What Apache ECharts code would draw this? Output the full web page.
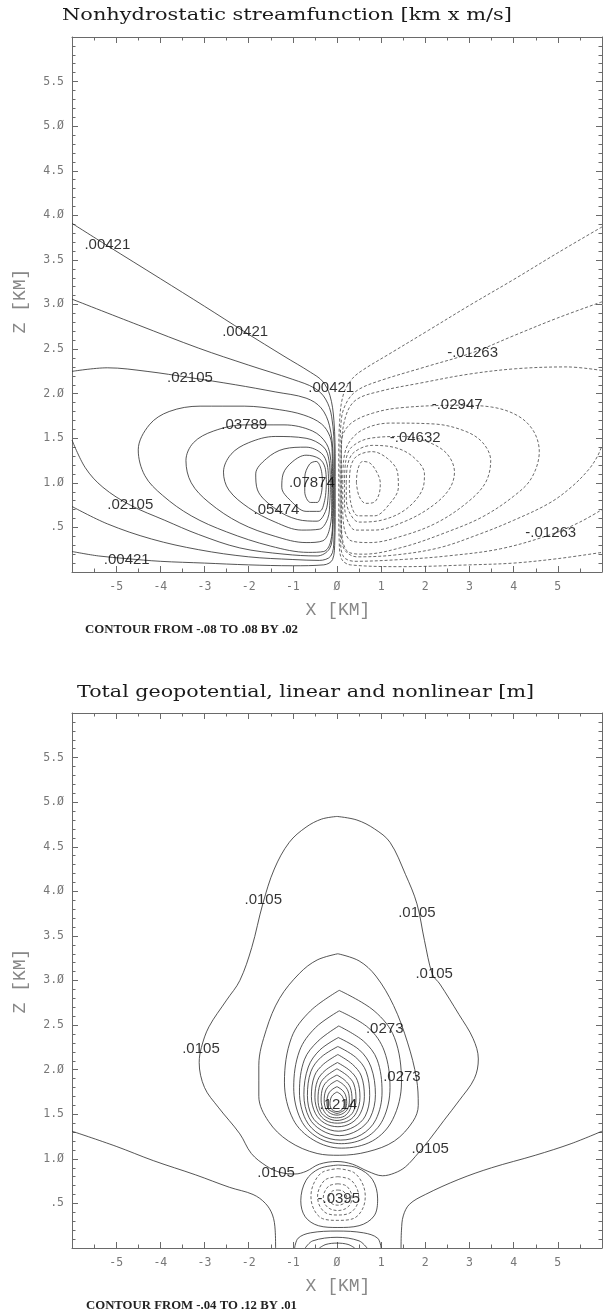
<!DOCTYPE html>
<html><head><meta charset="utf-8">
<script src="https://cdn.jsdelivr.net/npm/echarts@6/dist/echarts.min.js"></script>
<style>html,body{margin:0;padding:0;background:#fff}#c{width:605px;height:1315px}</style>
</head><body><div id="c"></div>
<script>
// ---------- axis ticks ----------
const xTickValues = [-5,-4,-3,-2,-1,0,1,2,3,4,5];
const xTickLabels = ['-5','-4','-3','-2','-1','Ø','1','2','3','4','5'];
const zTickValues = [0.5,1,1.5,2,2.5,3,3.5,4,4.5,5,5.5];
const zTickLabels = ['.5','1.Ø','1.5','2.Ø','2.5','3.Ø','3.5','4.Ø','4.5','5.Ø','5.5'];

// ---------- top panel: nonhydrostatic streamfunction contours [x km, z km] ----------
const psi_p00421 = [[-6,3.91],[-5.2,3.66],[-4,3.29],[-3,2.98],[-2.08,2.69],[-1.2,2.42],[-0.6,2.24],[-0.33,2.14],[-0.16,1.98],[-0.07,1.7],[-0.04,1.2],[-0.04,0.7],[-0.05,0.35],[-0.1,0.14],[-0.3,0.08],[-1,0.07],[-2,0.08],[-3,0.1],[-4,0.12],[-4.76,0.15],[-5.4,0.18],[-6,0.23]];
const psi_p01263 = [[-6,3.06],[-4.5,2.77],[-3.13,2.51],[-2,2.32],[-1,2.16],[-0.5,2.06],[-0.26,1.94],[-0.12,1.74],[-0.06,1.3],[-0.06,0.7],[-0.07,0.36],[-0.14,0.18],[-0.4,0.13],[-1,0.14],[-2,0.17],[-3.13,0.25],[-4.2,0.37],[-5.2,0.54],[-6,0.735]];
const psi_p02105 = [[-6,2.25],[-5.2,2.29],[-4.3,2.25],[-3.33,2.18],[-2.3,2.1],[-1.4,2.02],[-0.7,1.95],[-0.36,1.84],[-0.17,1.64],[-0.09,1.3],[-0.08,0.8],[-0.1,0.45],[-0.17,0.26],[-0.45,0.18],[-1.2,0.2],[-2.2,0.27],[-3.13,0.42],[-3.9,0.58],[-4.68,0.75],[-5.3,0.95],[-5.7,1.17],[-6,1.48]];
const psi_p02947 = [[-0.1,1.0],[-0.11,1.35],[-0.16,1.52],[-0.35,1.66],[-0.75,1.76],[-1.3,1.82],[-2.1,1.86],[-3.1,1.86],[-3.8,1.8],[-4.25,1.65],[-4.5,1.37],[-4.35,1.08],[-3.95,0.86],[-3.3,0.63],[-2.5,0.45],[-1.5,0.29],[-0.65,0.22],[-0.3,0.23],[-0.15,0.33],[-0.1,0.6],[-0.1,1.0]];
const psi_p03789 = [[-0.12,1.0],[-0.14,1.25],[-0.24,1.44],[-0.55,1.58],[-1.2,1.65],[-2.1,1.65],[-2.8,1.58],[-3.25,1.45],[-3.42,1.25],[-3.3,1.0],[-2.9,0.78],[-2.2,0.55],[-1.4,0.4],[-0.7,0.33],[-0.32,0.35],[-0.16,0.5],[-0.12,0.75],[-0.12,1.0]];
const psi_p04632 = [[-0.15,1.0],[-0.18,1.25],[-0.3,1.4],[-0.7,1.5],[-1.4,1.52],[-2.0,1.45],[-2.4,1.32],[-2.57,1.12],[-2.45,0.92],[-2.0,0.72],[-1.4,0.56],[-0.8,0.47],[-0.4,0.48],[-0.21,0.6],[-0.16,0.8],[-0.15,1.0]];
const psi_p05474 = [[-0.19,1.0],[-0.22,1.2],[-0.35,1.33],[-0.7,1.4],[-1.2,1.38],[-1.6,1.27],[-1.84,1.1],[-1.8,0.92],[-1.37,0.7],[-0.9,0.59],[-0.45,0.57],[-0.26,0.68],[-0.2,0.85],[-0.19,1.0]];
const psi_p06316 = [[-0.24,1.0],[-0.27,1.17],[-0.4,1.27],[-0.7,1.31],[-1.0,1.24],[-1.22,1.1],[-1.25,0.95],[-1.05,0.8],[-0.7,0.68],[-0.4,0.68],[-0.28,0.8],[-0.24,1.0]];
const psi_p07158 = [[-0.33,1.0],[-0.36,1.15],[-0.47,1.24],[-0.62,1.21],[-0.73,1.06],[-0.73,0.9],[-0.6,0.78],[-0.45,0.78],[-0.36,0.87],[-0.33,1.0]];

const psi_n00421 = [[6,3.87],[5,3.58],[4,3.28],[3,2.99],[2.07,2.71],[1.2,2.45],[0.6,2.27],[0.35,2.17],[0.15,2.0],[0.06,1.7],[0.04,1.2],[0.04,0.7],[0.05,0.35],[0.1,0.15],[0.3,0.08],[1.5,0.06],[3,0.08],[4,0.1],[5,0.15],[6,0.22]];
const psi_n01263 = [[6,3.03],[5,2.85],[4,2.65],[3.07,2.46],[2,2.3],[1,2.15],[0.5,2.05],[0.25,1.93],[0.1,1.72],[0.07,1.3],[0.07,0.7],[0.08,0.35],[0.15,0.17],[0.4,0.12],[1.46,0.14],[2.5,0.18],[3.7,0.26],[4.84,0.42],[5.5,0.56],[6,0.7]];
const psi_n02105 = [[6,2.26],[5.2,2.3],[4.06,2.28],[3,2.22],[1.9,2.12],[1.0,2.03],[0.43,1.93],[0.2,1.75],[0.1,1.4],[0.09,0.8],[0.1,0.45],[0.17,0.25],[0.45,0.17],[1.3,0.19],[2.3,0.27],[3.2,0.42],[4.0,0.58],[4.8,0.77],[5.3,0.95],[5.7,1.15],[5.9,1.3],[6,1.42]];
const psi_n02947 = [[0.1,1.0],[0.1,1.4],[0.14,1.55],[0.35,1.68],[0.8,1.78],[1.4,1.84],[2.72,1.87],[3.5,1.85],[4.1,1.75],[4.45,1.58],[4.58,1.35],[4.4,1.05],[4.0,0.85],[3.3,0.62],[2.5,0.45],[1.5,0.28],[0.6,0.2],[0.27,0.22],[0.13,0.35],[0.1,0.6],[0.1,1.0]];
const psi_n03789 = [[0.13,1.0],[0.15,1.25],[0.27,1.45],[0.6,1.6],[1.2,1.67],[2.2,1.66],[2.9,1.58],[3.3,1.45],[3.48,1.25],[3.36,1.0],[2.95,0.78],[2.25,0.55],[1.45,0.4],[0.75,0.33],[0.32,0.35],[0.16,0.5],[0.13,0.75],[0.13,1.0]];
const psi_n04632 = [[0.17,1.0],[0.2,1.25],[0.33,1.4],[0.75,1.5],[1.5,1.52],[2.1,1.45],[2.5,1.32],[2.66,1.12],[2.53,0.92],[2.1,0.72],[1.5,0.56],[0.85,0.47],[0.42,0.47],[0.22,0.6],[0.17,0.8],[0.17,1.0]];
const psi_n05474 = [[0.21,1.0],[0.24,1.2],[0.38,1.34],[0.8,1.42],[1.35,1.39],[1.75,1.28],[1.98,1.1],[1.93,0.92],[1.55,0.7],[1.0,0.58],[0.5,0.56],[0.27,0.68],[0.21,0.85],[0.21,1.0]];
const psi_n06316 = [[0.28,1.0],[0.31,1.18],[0.45,1.3],[0.8,1.35],[1.15,1.27],[1.37,1.12],[1.39,0.95],[1.2,0.77],[0.85,0.63],[0.48,0.63],[0.31,0.78],[0.28,1.0]];
const psi_n07158 = [[0.44,1.0],[0.47,1.15],[0.58,1.24],[0.75,1.22],[0.9,1.12],[0.98,1.0],[0.95,0.87],[0.83,0.78],[0.65,0.77],[0.5,0.85],[0.44,1.0]];

const psiLabelText = ['.00421','.00421','.02105','.00421','-.01263','-.02947','.03789','-.04632','.07874','.02105','.05474','-.01263','.00421'];
const psiLabelPos = [[-5.2,3.67],[-2.08,2.69],[-3.33,2.18],[-0.13,2.07],[3.07,2.46],[2.72,1.87],[-2.1,1.65],[1.77,1.5],[-0.57,1.0],[-4.68,0.75],[-1.37,0.7],[4.84,0.44],[-4.76,0.14]];

// ---------- bottom panel: total geopotential contours ----------
const phi_0021_left = [[-6,1.31],[-5,1.14],[-4.16,0.98],[-3.2,0.82],[-2.43,0.68],[-1.9,0.6],[-1.62,0.5],[-1.46,0.37],[-1.4,0.2],[-1.39,0]];
const phi_0021_right = [[1.45,0],[1.46,0.2],[1.5,0.36],[1.64,0.49],[2.0,0.6],[2.76,0.77],[3.5,0.9],[4.49,1.04],[5.3,1.17],[6,1.31]];
const phi_0021_oval = [[0.02,0.93],[0.45,0.9],[0.8,0.77],[0.92,0.55],[0.84,0.36],[0.5,0.25],[0.02,0.23],[-0.42,0.25],[-0.72,0.35],[-0.82,0.53],[-0.7,0.76],[-0.4,0.89],[0.02,0.93]];
const phi_arc1 = [[-0.96,0],[-0.88,0.11],[-0.6,0.17],[0,0.19],[0.6,0.17],[0.92,0.11],[1.0,0]];
const phi_arc2 = [[-0.72,0],[-0.55,0.08],[0,0.12],[0.5,0.08],[0.68,0]];
const phi_arc3 = [[-0.4,0],[-0.25,0.04],[0,0.055],[0.25,0.04],[0.4,0]];
const phi_0105 = [[0,4.84],[0.45,4.8],[0.85,4.7],[1.2,4.55],[1.55,4.19],[1.81,3.86],[1.98,3.45],[2.16,3.07],[2.33,2.96],[2.76,2.62],[3.08,2.35],[3.2,2.12],[3.11,1.9],[2.76,1.65],[2.42,1.43],[2.1,1.22],[1.85,1.07],[1.55,0.91],[1.3,0.84],[1.03,0.81],[0.7,0.86],[0.35,0.94],[0,0.97],[-0.4,0.94],[-0.7,0.86],[-0.95,0.83],[-1.3,0.85],[-1.6,0.92],[-1.94,1.06],[-2.2,1.28],[-2.69,1.58],[-3.0,1.8],[-3.12,2.08],[-3.07,2.25],[-2.9,2.48],[-2.5,2.78],[-2.2,3.0],[-1.93,3.37],[-1.68,3.86],[-1.42,4.25],[-1.08,4.55],[-0.7,4.72],[-0.35,4.81],[0,4.84]];
const phi_0189 = [[0.02,3.3],[0.5,3.22],[0.88,3.05],[1.28,2.72],[1.6,2.3],[1.8,1.9],[1.84,1.6],[1.72,1.42],[1.3,1.2],[0.7,1.08],[0.05,1.04],[-0.45,1.06],[-1.1,1.2],[-1.55,1.42],[-1.77,1.7],[-1.77,2.05],[-1.6,2.45],[-1.3,2.8],[-0.85,3.08],[-0.45,3.23],[0.02,3.3]];
const phi_0273 = [[0.05,2.89],[0.84,2.66],[1.3,2.36],[1.46,1.86],[1.26,1.44],[0.8,1.2],[0.1,1.12],[-0.53,1.21],[-0.99,1.44],[-1.19,1.86],[-1.03,2.36],[-0.6,2.66],[0.05,2.89]];
const phi_0357 = [[0.05,2.66],[0.71,2.47],[1.07,2.21],[1.2,1.8],[1.04,1.44],[0.66,1.24],[0.1,1.17],[-0.44,1.24],[-0.82,1.44],[-0.98,1.8],[-0.85,2.21],[-0.49,2.47],[0.05,2.66]];
const phi_0441 = [[0.04,2.49],[0.6,2.32],[0.91,2.11],[1.02,1.75],[0.88,1.44],[0.55,1.27],[0.08,1.21],[-0.38,1.27],[-0.71,1.44],[-0.85,1.75],[-0.74,2.11],[-0.43,2.32],[0.04,2.49]];
const phi_0525 = [[0.03,2.36],[0.51,2.22],[0.77,2.03],[0.87,1.72],[0.75,1.46],[0.47,1.32],[0.06,1.26],[-0.35,1.32],[-0.63,1.46],[-0.75,1.72],[-0.65,2.03],[-0.39,2.22],[0.03,2.36]];
const phi_0609 = [[0.02,2.26],[0.42,2.14],[0.66,1.98],[0.74,1.71],[0.64,1.48],[0.39,1.36],[0.03,1.31],[-0.32,1.36],[-0.57,1.48],[-0.67,1.71],[-0.59,1.98],[-0.36,2.14],[0.02,2.26]];
const phi_0693 = [[0.02,2.17],[0.35,2.06],[0.55,1.93],[0.62,1.7],[0.53,1.51],[0.32,1.4],[0.02,1.36],[-0.28,1.4],[-0.49,1.51],[-0.58,1.7],[-0.51,1.93],[-0.31,2.06],[0.02,2.17]];
const phi_0777 = [[0.01,2.08],[0.29,1.99],[0.46,1.88],[0.52,1.69],[0.44,1.52],[0.27,1.43],[0.01,1.4],[-0.25,1.43],[-0.42,1.52],[-0.5,1.69],[-0.44,1.88],[-0.27,1.99],[0.01,2.08]];
const phi_0861 = [[0,2.01],[0.24,1.93],[0.38,1.84],[0.43,1.67],[0.37,1.53],[0.22,1.46],[0,1.43],[-0.22,1.46],[-0.37,1.53],[-0.43,1.67],[-0.38,1.84],[-0.24,1.93],[0,2.01]];
const phi_0945 = [[0,1.94],[0.18,1.88],[0.3,1.8],[0.34,1.66],[0.29,1.55],[0.17,1.48],[-0.01,1.46],[-0.19,1.48],[-0.31,1.55],[-0.36,1.66],[-0.32,1.8],[-0.2,1.88],[0,1.94]];
const phi_1029 = [[0,1.88],[0.15,1.83],[0.25,1.76],[0.28,1.65],[0.24,1.56],[0.14,1.51],[0,1.49],[-0.15,1.51],[-0.25,1.56],[-0.29,1.65],[-0.26,1.76],[-0.16,1.83],[0,1.88]];
const phi_1113 = [[0,1.81],[0.12,1.77],[0.19,1.72],[0.22,1.64],[0.19,1.56],[0.11,1.53],[0,1.51],[-0.11,1.53],[-0.2,1.56],[-0.23,1.64],[-0.2,1.72],[-0.13,1.77],[0,1.81]];
const phi_1197 = [[0,1.75],[0.09,1.72],[0.14,1.68],[0.16,1.62],[0.14,1.57],[0.08,1.54],[0,1.53],[-0.08,1.54],[-0.14,1.57],[-0.16,1.62],[-0.14,1.68],[-0.09,1.72],[0,1.75]];
const phi_n0063 = [[0.02,0.89],[0.37,0.85],[0.57,0.73],[0.64,0.58],[0.57,0.43],[0.37,0.33],[0.02,0.31],[-0.33,0.33],[-0.52,0.43],[-0.59,0.58],[-0.52,0.73],[-0.33,0.85],[0.02,0.89]];
const phi_n0147 = [[0.02,0.8],[0.29,0.77],[0.44,0.68],[0.49,0.58],[0.44,0.47],[0.28,0.39],[0.02,0.37],[-0.24,0.39],[-0.39,0.47],[-0.44,0.58],[-0.39,0.68],[-0.25,0.77],[0.02,0.8]];
const phi_n0231 = [[0.02,0.72],[0.2,0.7],[0.3,0.64],[0.34,0.57],[0.3,0.49],[0.19,0.44],[0.02,0.42],[-0.16,0.44],[-0.27,0.49],[-0.31,0.57],[-0.27,0.64],[-0.17,0.7],[0.02,0.72]];
const phi_n0315 = [[0.02,0.65],[0.13,0.64],[0.2,0.6],[0.22,0.565],[0.19,0.52],[0.12,0.49],[0.02,0.48],[-0.09,0.49],[-0.16,0.52],[-0.18,0.565],[-0.16,0.6],[-0.1,0.64],[0.02,0.65]];

const phiLabelText = ['.0105','.0105','.0105','.0105','.0273','.0273','.1214','.0105','.0105','-.0395'];
const phiLabelPos = [[-1.67,3.9],[1.81,3.76],[2.2,3.07],[-3.08,2.23],[1.08,2.46],[1.47,1.92],[0.03,1.6],[2.11,1.11],[-1.38,0.84],[0.04,0.55]];

const topTitle = 'Nonhydrostatic streamfunction [km x m/s]';
const bottomTitle = 'Total geopotential, linear and nonlinear [m]';
const topNote = 'CONTOUR FROM -.08 TO .08 BY .02';
const bottomNote = 'CONTOUR FROM -.04 TO .12 BY .01';
const xName = 'X [KM]', zName = 'Z [KM]';

// ---------- build ----------
const psiSolid = [psi_p00421,psi_p01263,psi_p02105,psi_p02947,psi_p03789,psi_p04632,psi_p05474,psi_p06316,psi_p07158];
const psiDashed = [psi_n00421,psi_n01263,psi_n02105,psi_n02947,psi_n03789,psi_n04632,psi_n05474,psi_n06316,psi_n07158];
const phiSolid = [phi_0021_left,phi_0021_right,phi_0021_oval,phi_arc1,phi_arc2,phi_arc3,phi_0105,phi_0189,phi_0273,phi_0357,phi_0441,phi_0525,phi_0609,phi_0693,phi_0777,phi_0861,phi_0945,phi_1029,phi_1113,phi_1197];
const phiDashed = [phi_n0063,phi_n0147,phi_n0231,phi_n0315];

const GRIDS = [{left:72, top:37, width:535, height:535},{left:72, top:713, width:535, height:535}];
const AX = '#6a6a6a';

function fmtX(v){const i=xTickValues.findIndex(t=>Math.abs(t-v)<1e-6);return i<0?'':xTickLabels[i];}
function fmtZ(v){const i=zTickValues.findIndex(t=>Math.abs(t-v)<1e-6);return i<0?'':zTickLabels[i];}

const xAxes=[], yAxes=[];
GRIDS.forEach((g,gi)=>{
  [['bottom',true],['top',false]].forEach(([pos,lab])=>{
    xAxes.push({gridIndex:gi,type:'value',min:-6,max:6,interval:1,position:pos,
      axisLine:{show:true,onZero:false,lineStyle:{color:AX,width:1}},
      axisTick:{show:true,inside:true,length:6,lineStyle:{color:AX,width:1}},
      minorTick:{show:true,splitNumber:2,length:3.5,lineStyle:{color:AX,width:1}},
      splitLine:{show:false},minorSplitLine:{show:false},
      axisLabel:{show:lab,margin:9,color:'#777',fontFamily:'DejaVu Sans Mono',fontSize:11.5,formatter:fmtX}});
  });
  [['left',true],['right',false]].forEach(([pos,lab])=>{
    yAxes.push({gridIndex:gi,type:'value',min:0,max:6,interval:0.5,position:pos,
      axisLine:{show:true,onZero:false,lineStyle:{color:AX,width:1}},
      axisTick:{show:true,inside:true,length:6,lineStyle:{color:AX,width:1}},
      minorTick:{show:true,splitNumber:5,length:3.5,lineStyle:{color:AX,width:1}},
      splitLine:{show:false},minorSplitLine:{show:false},
      axisLabel:{show:lab,margin:8,color:'#777',fontFamily:'DejaVu Sans Mono',fontSize:11.5,formatter:fmtZ}});
  });
});

const series=[];
function addLines(list, gi, dashed){
  list.forEach(pts=>series.push({type:'line',xAxisIndex:gi*2,yAxisIndex:gi*2,data:pts,symbol:'none',showSymbol:false,
    smooth:0.35,silent:true,animation:false,z:2,
    lineStyle:{color:dashed?'#444':'#2a2a2a',width:0.8,type:dashed?[3,2]:'solid'}}));
}
addLines(psiSolid,0,false); addLines(psiDashed,0,true);
addLines(phiSolid,1,false); addLines(phiDashed,1,true);
function addLabels(text,pos,gi){
  series.push({type:'scatter',xAxisIndex:gi*2,yAxisIndex:gi*2,symbolSize:1,itemStyle:{color:'rgba(0,0,0,0)'},
    silent:true,animation:false,z:5,
    data:pos.map((p,i)=>({value:p,name:text[i]})),
    label:{show:true,position:'inside',formatter:'{b}',color:'#000',fontFamily:'Liberation Sans',fontSize:15}});
}
addLabels(psiLabelText,psiLabelPos,0);
addLabels(phiLabelText,phiLabelPos,1);

const mctx=document.createElement('canvas').getContext('2d');
function fitScale(text,font,w){mctx.font=font;return w/mctx.measureText(text).width;}
const TF='17px "DejaVu Serif"', NF='bold 12px "Liberation Serif"', AF='18px "Liberation Mono"';
function txt(text,font,x,y,w,fill){
  const o={type:'text',x:x,y:y,silent:true,z:10,
    style:{text:text,font:font,fill:fill||'#111',textAlign:'left',textVerticalAlign:'middle',align:'left',verticalAlign:'middle'}};
  if(w){o.scaleX=fitScale(text,font,w);}
  return o;
}
function axName(text,x,y,rot){
  return {type:'text',x:x,y:y,rotation:rot||0,silent:true,
    style:{text:text,font:AF,fill:'#888',textAlign:'center',textVerticalAlign:'middle',align:'center',verticalAlign:'middle'}};
}
const graphic=[
  txt(topTitle,TF,62,16,450,'#1a1a1a'),
  txt(bottomTitle,TF,77,693,457,'#1a1a1a'),
  txt(topNote,NF,85,630,213,'#222'),
  txt(bottomNote,NF,86,1306,211,'#222'),
  axName(xName,338,610),
  axName(xName,338,1286),
  axName(zName,20,301,Math.PI/2),
  axName(zName,20,981,Math.PI/2)
];

const chart=echarts.init(document.getElementById('c'),null,{renderer:'canvas'});
chart.setOption({animation:false,backgroundColor:'#fff',grid:GRIDS,xAxis:xAxes,yAxis:yAxes,series:series,graphic:graphic});
</script></body></html>
